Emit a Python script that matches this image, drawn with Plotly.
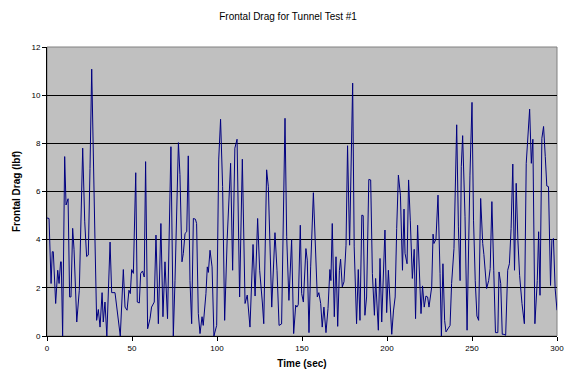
import plotly.graph_objects as go

time_sec = [0, 1.2, 2.4, 3.1, 3.7, 5.1, 6.3, 7.1, 8.0, 8.4, 9.2, 10.4, 11.2, 12.0, 12.4, 13.3, 14.1,
            15.1, 15.9, 17.5, 19.0, 21.0, 22.2, 23.3, 24.3, 25.3, 26.3, 28.2, 29.2, 30.2, 31.2, 32.4,
            33.1, 34.1, 35.2, 37.1, 38.05, 40.0, 41.6, 43.1, 44.9, 45.9, 47.1, 48.2, 49.0, 49.8, 50.8,
            52.2, 53.1, 54.3, 55.1, 56.2, 57.2, 58.0, 59.2, 60.6, 61.5, 63.1, 64.1, 65.5, 67.0, 68.2,
            69.4, 70.9, 72.9, 74.3, 75.3, 77.3, 78.2, 79.4, 80.2, 81.2, 82.2, 83.1, 84.1, 85.1, 86.1,
            87.3, 88.0, 89.0, 90.0, 91.2, 91.9, 93.5, 94.3, 94.9, 95.9, 97.1, 98.2, 99.8, 101.0, 102.1,
            103.3, 104.5, 106.0, 108.0, 109.2, 110.5, 111.8, 113.3, 114.9, 116.5, 117.8, 119.4, 121.2,
            122.4, 123.9, 125.1, 126.7, 127.5, 129.2, 130.2, 132.2, 134.1, 135.3, 136.5, 138.0, 140.0,
            141.0, 142.3, 143.9, 145.1, 146.3, 147.0, 147.8, 149.0, 149.8, 150.8, 152.3, 153.1, 154.1,
            155.1, 156.7, 157.6, 159.0, 159.9, 161.0, 161.9, 162.9, 164.1, 165.3, 166.4, 167.0, 167.8,
            169.0, 170.0, 171.0, 172.0, 172.7, 173.7, 174.7, 175.9, 176.8, 178.0, 179.8, 180.7, 182.1,
            183.1, 184.1, 185.2, 186.0, 187.0, 188.0, 189.3, 190.4, 191.4, 192.6, 193.3, 194.1, 194.9,
            195.9, 196.9, 198.8, 199.8, 200.8, 201.8, 202.8, 203.8, 204.8, 205.7, 206.7, 207.9, 209.1,
            210.0, 210.6, 211.8, 212.7, 213.7, 214.9, 216.0, 216.8, 218.0, 218.8, 220.0, 220.9, 221.9,
            222.9, 223.9, 224.7, 226.3, 227.1, 227.6, 228.8, 230.0, 231.2, 232.0, 232.9, 233.9, 234.7,
            236.1, 237.1, 238.0, 239.4, 241.0, 242.0, 243.0, 243.7, 244.5, 245.9, 247.1, 248.0, 248.8,
            250.0, 250.9, 251.9, 252.9, 253.9, 255.1, 256.3, 257.0, 258.6, 259.8, 260.7, 261.7, 262.8,
            263.8, 265.2, 265.9, 266.9, 267.8, 268.8, 269.8, 271.0, 272.0, 273.0, 274.0, 275.0, 276.0,
            277.0, 278.0, 279.4, 280.8, 281.9, 282.7, 283.9, 284.9, 285.8, 287.0, 288.4, 289.2, 290.0,
            291.1, 292.1, 293.1, 294.0, 295.0, 296.2, 297.0, 297.9, 298.9, 300.0]

frontal_drag = [4.9, 4.88, 2.18, 3.5, 3.5, 1.35, 2.73, 2.18, 3.08, 3.08, 0.0, 7.45, 5.44, 5.7, 5.7, 1.62, 1.62,
                4.47, 3.6, 0.58, 1.9, 7.8, 4.74, 3.3, 3.36, 6.96, 11.08, 4.05, 0.65, 1.1, 0.37, 1.8,
                0.58, 1.41, 0.0, 3.9, 1.8, 1.8, 0.8, 0.0, 2.76, 1.2, 1.07, 1.9, 1.76, 2.76, 2.6,
                6.78, 1.41, 1.37, 2.6, 2.7, 2.45, 7.24, 0.3, 0.72, 1.2, 1.41, 4.19, 0.51, 4.67, 0.8,
                3.08, 0.72, 7.86, 0.0, 2.3, 8.03, 6.7, 3.08, 3.43, 4.26, 4.33, 7.48, 2.3, 0.51, 4.88,
                4.85, 4.67, 0.93, 0.1, 0.8, 0.44, 1.76, 2.87, 2.64, 3.56, 2.87, 0.0, 0.44, 7.31, 9.0,
                6.2, 0.65, 4.05, 7.17, 2.73, 7.8, 8.17, 1.62, 7.34, 1.35, 1.7, 0.37, 3.8,
                1.66, 4.88, 2.73, 1.37, 0.51, 6.9, 6.2, 1.2, 4.29, 2.73, 0.44, 0.5, 9.04,
                4.12, 1.48, 4.0, 0.1, 1.28, 1.2, 1.3, 4.6, 1.76, 1.41, 3.63, 3.15, 0.14,
                2.87, 5.95, 4.4, 1.62, 1.8, 1.35, 0.37, 1.2, 0.14, 1.14, 2.76, 2.3, 4.67,
                0.8, 3.29, 0.4, 2.73, 3.19, 2.04, 2.25, 3.77, 7.9, 3.77, 10.5, 3.7, 0.51,
                2.76, 0.65, 5.02, 5.0, 0.86, 1.62, 6.5, 6.48, 2.6, 0.86, 2.39, 0.93, 0.24,
                3.22, 0.58, 4.4, 0.97, 2.73, 1.55, 0.07, 1.04, 1.62, 4.47, 6.68, 5.85, 2.73,
                5.27, 3.43, 3.0, 6.48, 4.81, 2.39, 3.6, 0.72, 4.6, 3.29, 0.93, 2.08, 1.2,
                1.66, 1.62, 1.2, 2.04, 4.23, 3.84, 4.02, 5.85, 2.6, 0.0, 3.0, 0.65, 0.17,
                0.35, 0.44, 2.18, 3.63, 8.77, 4.53, 2.3, 7.03, 8.32, 4.95, 0.24, 4.12, 6.68,
                9.7, 4.81, 2.3, 0.83, 0.65, 5.71, 3.84, 3.38, 1.97, 2.3, 2.8, 5.58, 2.73,
                0.14, 0.14, 2.66, 2.18, 0.07, 0.07, 0.03, 2.73, 3.0, 4.47, 7.14, 2.73, 6.34,
                3.98, 2.52, 1.35, 0.51, 7.17, 8.28, 9.42, 7.17, 8.17, 0.51, 2.3, 4.33, 1.69,
                8.21, 8.7, 7.45, 6.23, 6.2, 2.1, 3.98, 4.05, 1.97, 1.07]

x_ticks = [0, 50, 100, 150, 200, 250, 300]
y_ticks = [0, 2, 4, 6, 8, 10, 12]

font_family = "Liberation Sans, Arial, sans-serif"

fig = go.Figure()
fig.add_trace(go.Scatter(
    x=time_sec, y=frontal_drag, mode="lines",
    line=dict(color="#000080", width=1),
    showlegend=False, hoverinfo="skip",
))

fig.update_layout(
    width=566, height=373,
    margin=dict(l=47, r=9, t=47, b=37, autoexpand=False),
    paper_bgcolor="white",
    plot_bgcolor="#C0C0C0",
    font=dict(family=font_family, color="black", size=8),
    title=dict(text="Frontal Drag for Tunnel Test #1", x=0.509, xanchor="center",
               y=0.955, yanchor="middle", font=dict(size=10, family=font_family)),
    xaxis=dict(
        range=[0, 300], tickvals=x_ticks, ticks="outside", ticklen=4, tickcolor="black",
        showgrid=False, zeroline=False, showline=True, linecolor="black", linewidth=1,
        mirror=False, automargin=False,
        title=dict(text="<b>Time (sec)</b>", font=dict(size=10), standoff=8),
        tickfont=dict(size=8),
    ),
    yaxis=dict(
        range=[0, 12], tickvals=y_ticks, ticks="outside", ticklen=4, tickcolor="black",
        showgrid=True, gridcolor="#000000", gridwidth=1, zeroline=False,
        showline=True, linecolor="black", linewidth=1, automargin=False,
        title=dict(text="<b>Frontal Drag (lbf)</b>", font=dict(size=10), standoff=8),
        tickfont=dict(size=8),
    ),
    shapes=[dict(type="rect", xref="paper", yref="paper", x0=0, x1=1, y0=0, y1=1,
                 line=dict(color="#808080", width=1), layer="below")],
)

fig.write_html("out.html")
